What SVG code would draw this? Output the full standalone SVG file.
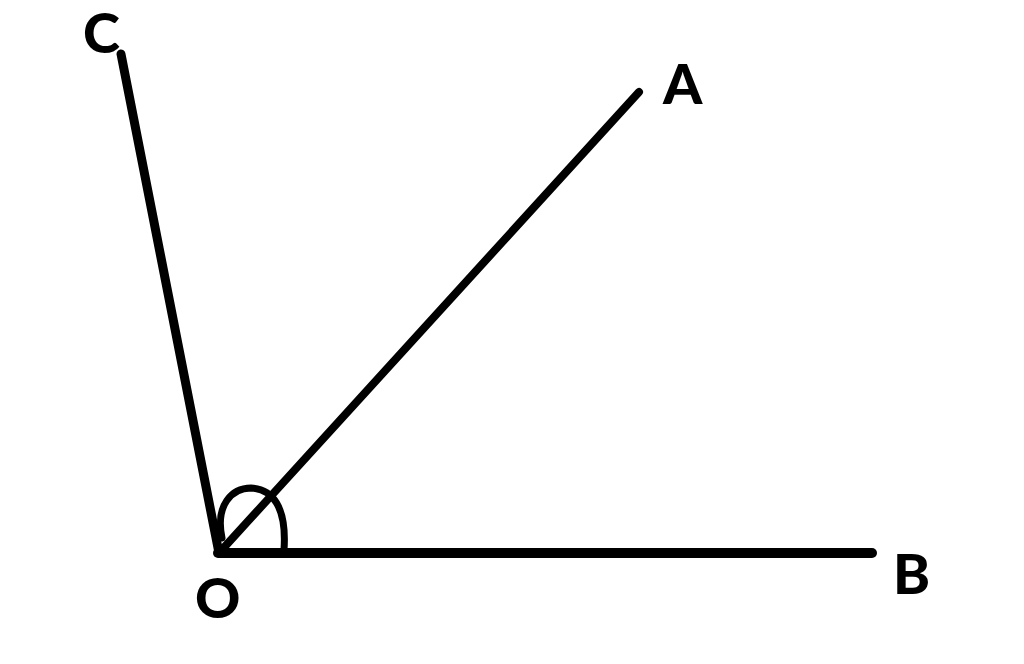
<svg xmlns="http://www.w3.org/2000/svg" width="1024" height="664" viewBox="0 0 1024 664">
<style>
.ray{stroke:#000;fill:none;stroke-linecap:round;stroke-linejoin:round}
.lbl{font-family:Lato,"Open Sans","Liberation Sans",sans-serif;font-weight:900;font-size:56px;fill:#000}
</style>
<rect width="1024" height="664" fill="#fff"/>
<g id="connectors">
<line class="ray" x1="219" y1="553" x2="121" y2="54" stroke-width="9"/>
<line class="ray" x1="219" y1="553" x2="639" y2="92" stroke-width="8"/>
<line class="ray" x1="218" y1="553" x2="872" y2="553" stroke-width="10"/>
<path class="ray" d="M 222 538 C 215 505, 232 488, 251 488 C 272 489, 287 506, 284 550" stroke-width="7"/>
</g>
<g id="C"><text class="lbl" x="83" y="53">C</text></g>
<g id="A"><text class="lbl" x="663" y="104">A</text></g>
<g id="B"><text class="lbl" x="893" y="594">B</text></g>
<g id="O"><text class="lbl" x="195" y="618">O</text></g>
</svg>
